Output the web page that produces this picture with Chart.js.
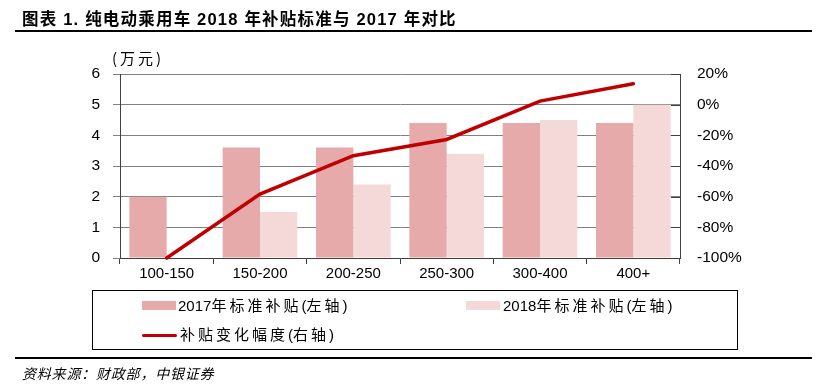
<!DOCTYPE html>
<html>
<head>
<meta charset="utf-8">
<script src="https://cdn.jsdelivr.net/npm/chart.js@4/dist/chart.umd.min.js"></script>
<style>
  html, body { margin:0; padding:0; background:#fff; }
  #wrap { position:relative; width:818px; height:390px; overflow:hidden; font-family:"Liberation Sans","Noto Sans CJK SC",Arial,sans-serif; }
  #c { position:absolute; left:0; top:0; }
  .abs { position:absolute; white-space:nowrap; }
  #title { left:22px; top:6px; font-size:16.5px; font-weight:bold; letter-spacing:1.2px; color:#000; font-family:"Liberation Sans","Noto Sans CJK SC",sans-serif; }
  #tline { left:15px; top:30px; width:797px; height:2px; background:#000; }
  #unit { left:112px; top:47px; font-size:15px; color:#000; letter-spacing:3px; font-family:"Noto Sans CJK SC",sans-serif; }
  #legend { left:92px; top:290px; width:644px; height:58px; border:1px solid #000; }
  .li { position:absolute; font-size:15px; color:#000; line-height:18px; }
  .li .cj { letter-spacing:3px; }
  .sw { position:absolute; }
  #fline { left:15px; top:357px; width:797px; height:2px; background:#000; }
  #foot { left:22px; top:363px; font-size:14px; font-style:italic; letter-spacing:0.8px; color:#000; font-family:"Noto Sans CJK SC",sans-serif; }
</style>
</head>
<body>
<div id="wrap">
  <canvas id="c" width="818" height="390"></canvas>
  <div class="abs" id="title">图表 1. 纯电动乘用车 2018 年补贴标准与 2017 年对比</div>
  <div class="abs" id="tline"></div>
  <div class="abs" id="unit">(万元)</div>
  <div class="abs" id="legend"></div>
  <div class="abs" id="fline"></div>
  <div class="abs" id="foot">资料来源：财政部，中银证券</div>
</div>
<script>
const categories = ['100-150', '150-200', '200-250', '250-300', '300-400', '400+'];
const subsidy2017 = [2.0, 3.6, 3.6, 4.4, 4.4, 4.4];
const subsidy2018 = [0, 1.5, 2.4, 3.4, 4.5, 5.0];
const changePct = [-100, -58.3, -33.3, -22.7, 2.3, 13.6];
const seriesLabels = ['2017年标准补贴(左轴)', '2018年标准补贴(左轴)', '补贴变化幅度(右轴)'];

const FONT = "'Liberation Sans', 'Noto Sans CJK SC', Arial, sans-serif";

const inwardTicks = {
  id: 'inwardTicks',
  afterDatasetsDraw(chart) {
    const s = chart.scales.y1;
    const ctx = chart.ctx;
    ctx.save();
    ctx.strokeStyle = '#404040';
    ctx.lineWidth = 1;
    s.ticks.forEach(t => {
      const y = Math.round(s.getPixelForValue(t.value)) + 0.5;
      ctx.beginPath();
      ctx.moveTo(chart.chartArea.right - 9, y);
      ctx.lineTo(chart.chartArea.right, y);
      ctx.stroke();
    });
    ctx.restore();
  }
};

const chart = new Chart(document.getElementById('c'), {
  data: {
    labels: categories,
    datasets: [
      { type: 'line', label: seriesLabels[2], data: changePct, yAxisID: 'y1', borderColor: '#C00000', backgroundColor: '#C00000', borderWidth: 3.5, pointRadius: 0, borderCapStyle: 'round', tension: 0, clip: false, order: 0 },
      { type: 'bar', label: seriesLabels[0], data: subsidy2017, yAxisID: 'y', backgroundColor: '#E6AAAA', categoryPercentage: 0.8, barPercentage: 1.0, order: 1 },
      { type: 'bar', label: seriesLabels[1], data: subsidy2018, yAxisID: 'y', backgroundColor: '#F5D9D9', categoryPercentage: 0.8, barPercentage: 1.0, order: 2 }
    ]
  },
  options: {
    responsive: false,
    animation: false,
    events: [],
    layout: { padding: { top: 74, left: 0, right: 0, bottom: 0 } },
    plugins: { legend: { display: false }, title: { display: false }, tooltip: { enabled: false } },
    scales: {
      x: {
        grid: { offset: true, drawOnChartArea: false, tickLength: 6, color: '#404040' },
        border: { color: '#404040', width: 1 },
        ticks: { font: { size: 15, family: FONT }, color: '#000', padding: 1, maxRotation: 0 },
        afterFit(s) { s.height = 132; }
      },
      y: {
        position: 'left', min: 0, max: 6,
        grid: { color: '#808080', tickLength: 7, lineWidth: 1 },
        border: { color: '#404040', width: 1 },
        ticks: { stepSize: 1, font: { size: 15.5, family: FONT }, color: '#000', padding: 13 },
        afterFit(s) { s.width = 120; }
      },
      y1: {
        position: 'right', min: -100, max: 20,
        grid: { drawOnChartArea: false, drawTicks: false },
        border: { color: '#404040', width: 1 },
        ticks: { stepSize: 20, font: { size: 15.5, family: FONT }, color: '#000', padding: 17, callback: v => v + '%' },
        afterFit(s) { s.width = 138; }
      }
    }
  },
  plugins: [inwardTicks]
});

// HTML legend built from the chart's datasets
const leg = document.getElementById('legend');
const pos = [
  { ds: 1, x: 49, y: 8, text: 85 },
  { ds: 2, x: 373, y: 8, text: 410 },
  { ds: 0, x: 49, y: 37, text: 87 }
];
function addRuns(el, str) {
  str.split(/([\u3400-\u9fff]+)/).forEach(part => {
    if (!part) return;
    const sp = document.createElement('span');
    if (/[\u3400-\u9fff]/.test(part)) sp.className = 'cj';
    sp.textContent = part;
    el.appendChild(sp);
  });
}
pos.forEach(p => {
  const d = chart.data.datasets[p.ds];
  const sw = document.createElement('div');
  sw.className = 'sw';
  if (d.type === 'line') {
    sw.style.cssText = `left:${p.x}px;top:${p.y + 6}px;width:35px;height:3px;background:${d.borderColor};border-radius:2px;`;
  } else {
    sw.style.cssText = `left:${p.x}px;top:${p.y + 2}px;width:34px;height:9px;background:${d.backgroundColor};`;
  }
  leg.appendChild(sw);
  const t = document.createElement('div');
  t.className = 'li';
  t.style.left = p.text + 'px';
  t.style.top = (p.y - 2) + 'px';
  addRuns(t, d.label);
  leg.appendChild(t);
});
</script>
</body>
</html>
